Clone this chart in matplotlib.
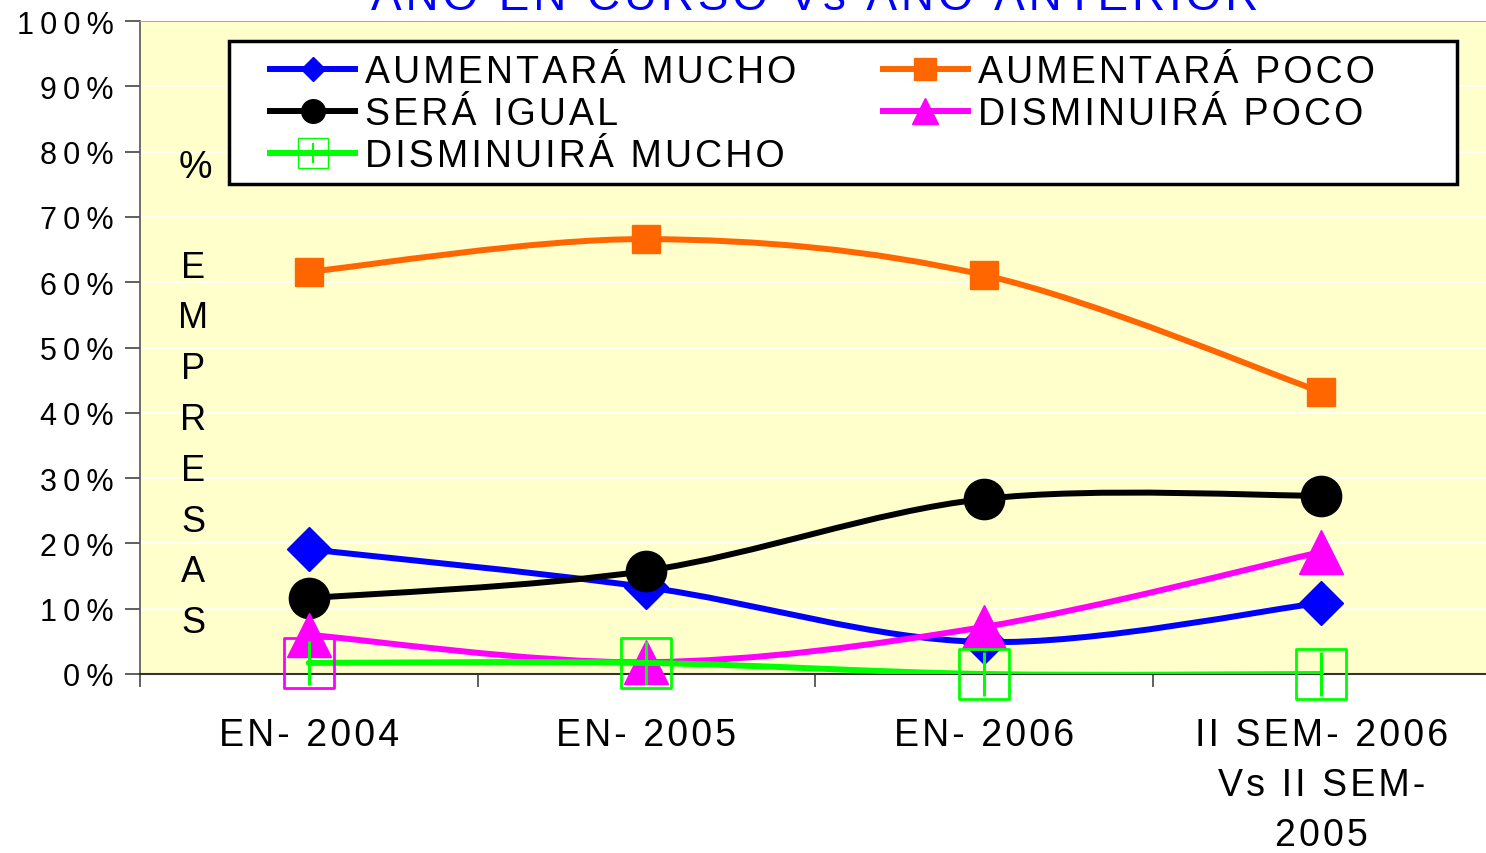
import matplotlib
matplotlib.use('Agg')
import matplotlib.pyplot as plt
from matplotlib.path import Path
from matplotlib.patches import PathPatch, Rectangle
from matplotlib.lines import Line2D

plt.rcParams['font.family'] = ['Liberation Sans', 'DejaVu Sans']

# data (% of companies)
periods = ["EN- 2004", "EN- 2005", "EN- 2006", "II SEM- 2006\nVs II SEM-\n2005"]
aumentara_mucho = [19.1, 13.3, 4.9, 10.9]
aumentara_poco = [61.6, 66.6, 61.1, 43.2]
sera_igual = [11.6, 15.8, 26.8, 27.3]
disminuira_poco = [6.0, 1.8, 7.2, 18.7]
disminuira_mucho = [1.7, 1.7, 0.0, 0.0]
yticks = [0, 10, 20, 30, 40, 50, 60, 70, 80, 90, 100]

HAIR = "\u200a"
THIN = "\u2009"


def spaced(s, sep=HAIR):
    return "\n".join(sep.join(line) for line in s.split("\n"))


def smooth_path(x, y):
    # Excel-like smoothed line: cubic bezier through the points
    n = len(x)
    verts = [(x[0], y[0])]
    codes = [Path.MOVETO]
    for i in range(n - 1):
        x0, y0 = (x[i - 1], y[i - 1]) if i > 0 else (x[i], y[i])
        x3, y3 = (x[i + 2], y[i + 2]) if i + 2 < n else (x[i + 1], y[i + 1])
        c1 = (x[i] + (x[i + 1] - x0) / 6, y[i] + (y[i + 1] - y0) / 6)
        c2 = (x[i + 1] - (x3 - x[i]) / 6, y[i + 1] - (y3 - y[i]) / 6)
        verts += [c1, c2, (x[i + 1], y[i + 1])]
        codes += [Path.CURVE4] * 3
    return Path(verts, codes)


fig = plt.figure(figsize=(14.86, 8.54), dpi=100)
ax = fig.add_axes([140 / 1486, 1 - 675 / 854, 1350 / 1486, 653 / 854])
ax.set_facecolor('#FFFFCC')
ax.set_xlim(-0.5, 3.5)
ax.set_ylim(0, 100)

xs = list(range(len(periods)))
lw = 4.3

series = [
    ("AUMENTARÁ MUCHO", aumentara_mucho, '#0000FF', 'D', 22),
    ("AUMENTARÁ POCO", aumentara_poco, '#FF6600', 's', 20),
    ("SERÁ IGUAL", sera_igual, '#000000', 'o', 29),
    ("DISMINUIRÁ POCO", disminuira_poco, '#FF00FF', '^', 32),
]
z = 3
for name, vals, col, mk, ms in series:
    ax.add_patch(PathPatch(smooth_path(xs, vals), fill=False, edgecolor=col,
                           lw=lw, zorder=z, capstyle='round', joinstyle='round'))
    ax.plot(xs, vals, linestyle='none', marker=mk, ms=ms, color=col,
            mec=col, zorder=z + 0.5, clip_on=False)
    z += 1

green = '#00FF00'
ax.add_patch(PathPatch(smooth_path(xs, disminuira_mucho), fill=False, edgecolor=green,
                       lw=lw, zorder=z, capstyle='round'))
sq_edges = ['#FF00FF', green, green, green]
ax.scatter(xs, disminuira_mucho, marker='s', s=(36) ** 2, facecolors='none',
           edgecolors=sq_edges, linewidths=2.0, zorder=z + 0.5, clip_on=False)
ax.plot(xs, disminuira_mucho, linestyle='none', marker='|', ms=31, mew=2.2,
        color=green, zorder=z + 0.6, clip_on=False)

# axes styling
ax.set_yticks(yticks)
ax.set_yticklabels([spaced(f"{v}%", THIN) for v in yticks], fontsize=22)
ax.set_xticks(xs)
ax.set_xticklabels([spaced(p) for p in periods], fontsize=27, linespacing=1.5)
ax.set_xticks([-0.5, 0.5, 1.5, 2.5, 3.5], minor=True)
ax.tick_params(axis='x', which='major', length=0, pad=31)
ax.tick_params(axis='x', which='minor', length=9, color='#444444', width=1.2)
ax.tick_params(axis='y', length=11, color='#444444', width=1.2, pad=8)
ax.grid(axis='y', color='white', lw=1.2)
ax.set_axisbelow(True)
ax.spines['right'].set_visible(False)
ax.spines['left'].set_color('#555555')
ax.spines['left'].set_linewidth(1.2)
ax.spines['bottom'].set_color('#333333')
ax.spines['bottom'].set_linewidth(1.5)
ax.spines['top'].set_color('#AAAAAA')

# vertical y label
fig.text(195 / 1486, 1 - 168 / 854, "%", fontsize=27, ha='center', va='center')
for i, ch in enumerate("EMPRESAS"):
    fig.text(193 / 1486, 1 - (268 + i * 50.8) / 854, ch, fontsize=26,
             ha='center', va='center')

# title (cut by the top edge)
fig.text(815 / 1486, 1 - 10 / 854, spaced("AÑO EN CURSO Vs AÑO ANTERIOR"),
         fontsize=33, color='#0000FF', ha='center', va='baseline')

# legend: frame drawn separately, entries placed without frame
fig.patches.append(Rectangle((229 / 1486, 1 - 185 / 854), 1228 / 1486, 143 / 854,
                             transform=fig.transFigure, facecolor='white',
                             edgecolor='black', lw=2.5, zorder=19))
h_am = Line2D([], [], color='#0000FF', lw=lw, marker='D', ms=12)
h_ap = Line2D([], [], color='#FF6600', lw=lw, marker='s', ms=16)
h_si = Line2D([], [], color='#000000', lw=lw, marker='o', ms=17)
h_dp = Line2D([], [], color='#FF00FF', lw=lw, marker='^', ms=19)
h_dm1 = Line2D([], [], color=green, lw=lw, marker='s', ms=21, mfc='none', mew=1.0)
h_dm2 = Line2D([], [], color=green, lw=0, marker='|', ms=15, mew=1.5)
handles = [h_am, h_si, (h_dm1, h_dm2), h_ap, h_dp]
labels = ["AUMENTARÁ MUCHO", "SERÁ IGUAL", "DISMINUIRÁ MUCHO", "AUMENTARÁ POCO", "DISMINUIRÁ POCO"]
leg = fig.legend(handles, [spaced(l) for l in labels], ncol=2, fontsize=27,
                 loc='upper left', bbox_to_anchor=(270 / 1486, 1 - 55 / 854),
                 frameon=False, handlelength=2.27, handletextpad=0.27,
                 columnspacing=2.3, labelspacing=0.16, borderpad=0, borderaxespad=0)
leg.set_zorder(20)

fig.savefig('out.png', dpi=100)
